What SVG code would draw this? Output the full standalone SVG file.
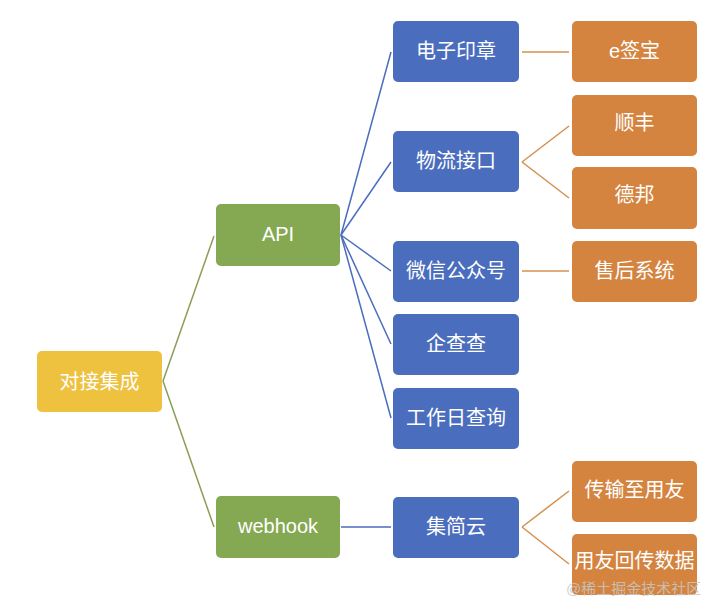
<svg xmlns="http://www.w3.org/2000/svg" width="720" height="613" viewBox="0 0 720 613">
<style>
.n text{font-family:"Liberation Sans","Noto Sans CJK SC",sans-serif;font-size:20px;fill:#fff;text-anchor:middle;dominant-baseline:central}
.root rect{fill:#EEC13F}
.g rect{fill:#85A852}
.b rect{fill:#4B6DBE}
.o rect{fill:#D4843F}
.lg{stroke:#8A9E55;stroke-width:1.5;fill:none}
.lb{stroke:#4B6DBE;stroke-width:1.5;fill:none}
.lo{stroke:#D4904E;stroke-width:1.5;fill:none}
.wm{font-family:"Liberation Sans","Noto Sans CJK SC",sans-serif;font-size:15px;fill:#c8c8c8;fill-opacity:0.85}
</style>
<rect width="720" height="613" fill="#fff"/>
<g id="connectors">
<path class="lg" d="M163,381 L214,236"/>
<path class="lg" d="M163,381 L214,527"/>
<path class="lb" d="M341,235 L391,52"/>
<path class="lb" d="M341,235 L391,162"/>
<path class="lb" d="M341,235 L391,271"/>
<path class="lb" d="M341,235 L391,344"/>
<path class="lb" d="M341,235 L391,418"/>
<path class="lb" d="M341,527 L391,527"/>
<path class="lo" d="M522,52 L569,52"/>
<path class="lo" d="M522,162 L569,126"/>
<path class="lo" d="M522,162 L569,198"/>
<path class="lo" d="M522,271 L569,271"/>
<path class="lo" d="M522,527 L569,491"/>
<path class="lo" d="M522,527 L569,564"/>
</g>
<g id="root" class="n root"><rect x="37" y="351" width="125" height="61" rx="5"/><text x="99.5" y="381.5">对接集成</text></g>
<g id="api" class="n g"><rect x="216" y="204" width="124" height="62" rx="5"/><text x="278" y="234">API</text></g>
<g id="webhook" class="n g"><rect x="216" y="496" width="124" height="62" rx="5"/><text x="278" y="526">webhook</text></g>
<g id="dzyz" class="n b"><rect x="393" y="21" width="126" height="61" rx="5"/><text x="456" y="50.5">电子印章</text></g>
<g id="wljk" class="n b"><rect x="393" y="131" width="126" height="61" rx="5"/><text x="456" y="160.5">物流接口</text></g>
<g id="wxgzh" class="n b"><rect x="393" y="241" width="126" height="61" rx="5"/><text x="456" y="270.5">微信公众号</text></g>
<g id="qcc" class="n b"><rect x="393" y="314" width="126" height="61" rx="5"/><text x="456" y="343.5">企查查</text></g>
<g id="gzrcx" class="n b"><rect x="393" y="388" width="126" height="61" rx="5"/><text x="456" y="417.5">工作日查询</text></g>
<g id="jjy" class="n b"><rect x="393" y="497" width="126" height="61" rx="5"/><text x="456" y="526.5">集简云</text></g>
<g id="eqb" class="n o"><rect x="572" y="21" width="125" height="61" rx="5"/><text x="634.5" y="50.5">e签宝</text></g>
<g id="sf" class="n o"><rect x="572" y="95" width="125" height="61" rx="5"/><text x="634.5" y="123">顺丰</text></g>
<g id="db" class="n o"><rect x="572" y="167" width="125" height="62" rx="5"/><text x="634.5" y="195">德邦</text></g>
<g id="shxt" class="n o"><rect x="572" y="241" width="125" height="61" rx="5"/><text x="634.5" y="270.5">售后系统</text></g>
<g id="cszyy" class="n o"><rect x="572" y="461" width="125" height="61" rx="5"/><text x="634.5" y="490">传输至用友</text></g>
<g id="yyhcsj" class="n o"><rect x="572" y="534" width="125" height="61" rx="5"/><text x="634.5" y="561">用友回传数据</text></g>
<text class="wm" x="566" y="594">@稀土掘金技术社区</text>
</svg>
